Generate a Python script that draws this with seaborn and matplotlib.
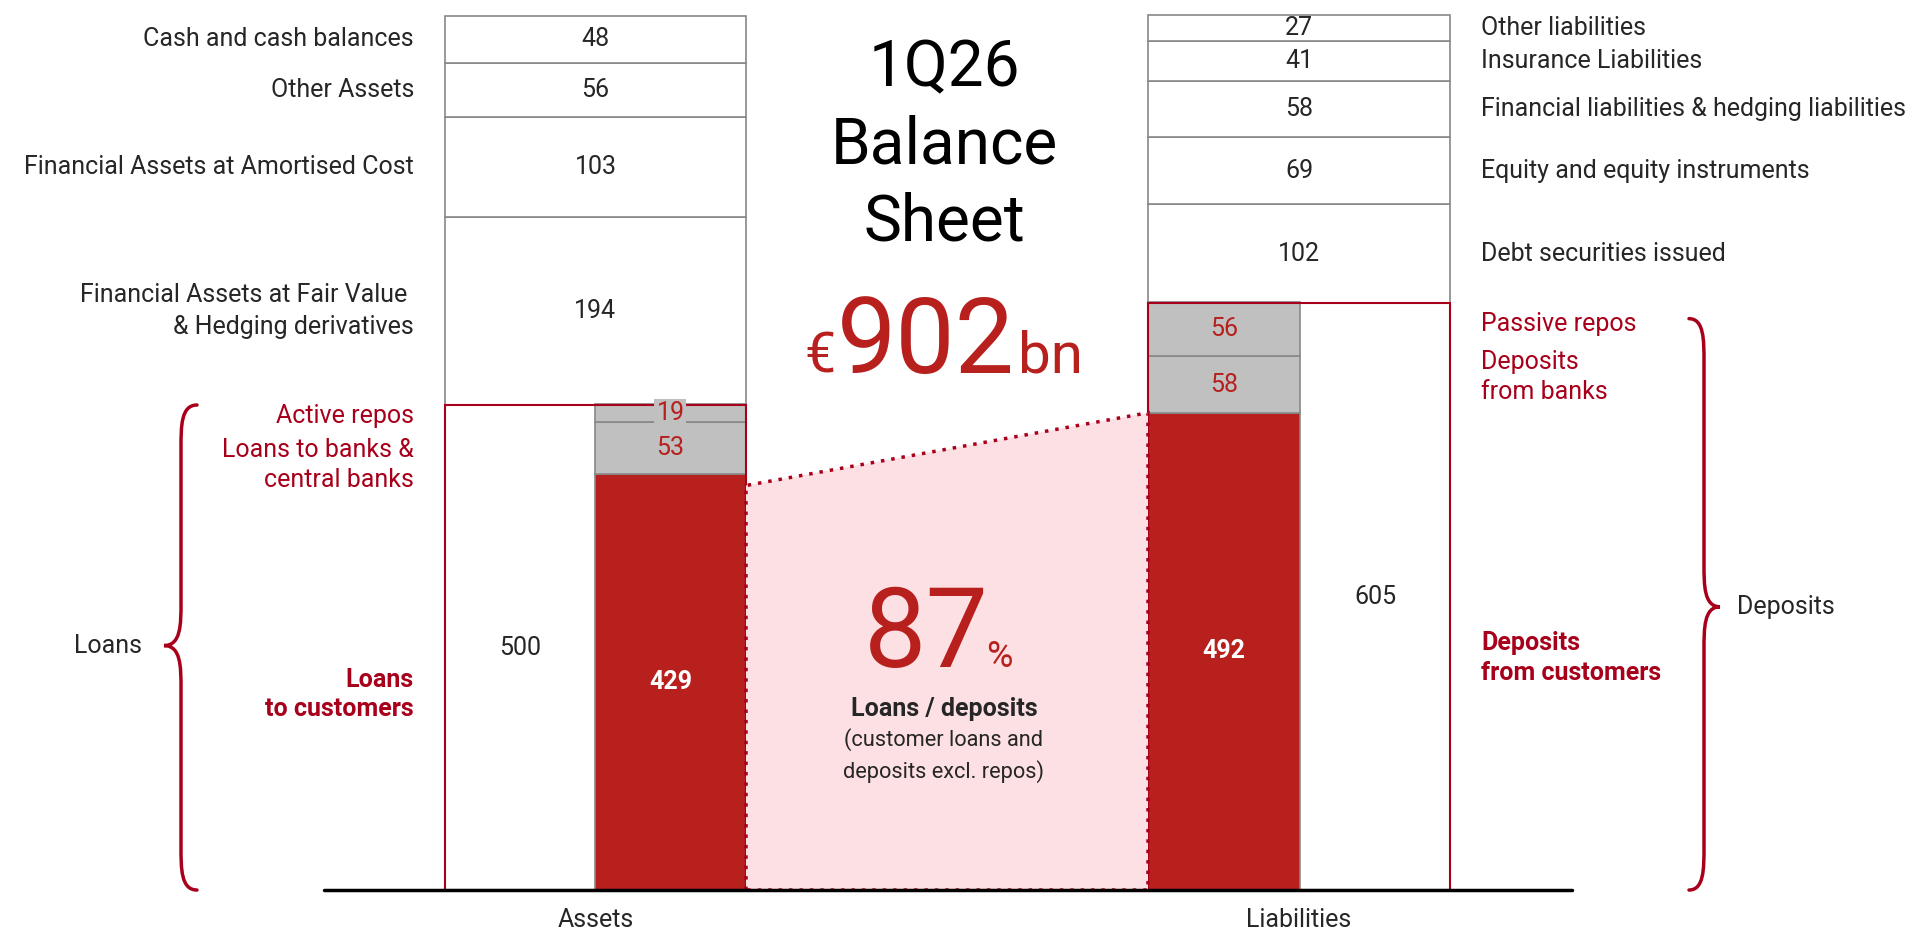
import numpy as np
import seaborn as sns
import matplotlib.pyplot as plt
from matplotlib.path import Path
from matplotlib.patches import PathPatch, Polygon

# ---- data (EUR bn) ----
asset_labels = ["Cash and cash balances", "Other Assets",
                "Financial Assets at Amortised Cost",
                "Financial Assets at Fair Value \n& Hedging derivatives"]
asset_values = [48, 56, 103, 194]          # top -> bottom, above loans
loans_total = 500
loan_labels = ["Loans\nto customers", "Loans to banks &\ncentral banks", "Active repos"]
loan_values = [429, 53, 19]                # bottom -> top

liab_labels = ["Other liabilities", "Insurance Liabilities",
               "Financial liabilities & hedging liabilities",
               "Equity and equity instruments", "Debt securities issued"]
liab_values = [27, 41, 58, 69, 102]        # top -> bottom, above deposits
deposits_total = 605
deposit_labels = ["Deposits\nfrom customers", "Deposits\nfrom banks", "Passive repos"]
deposit_values = [492, 58, 56]             # bottom -> top

total_bs = 902
ltd_ratio = 87
quarter = "1Q26"
categories = ["Assets", "Liabilities"]

# ---- style ----
sns.set_theme(style="white")
plt.rcParams['font.family'] = ['Roboto', 'DejaVu Sans']
RED = "#B8201E"
DARK_RED = "#A8001B"
GREY = "#C0C0C0"
EDGE = "#888888"
PINK = "#FDE0E3"
FS = 18

fig = plt.figure(figsize=(19.33, 9.33), dpi=100)
ax = fig.add_axes([0, 0, 1, 1])
ax.set_xlim(0, 1933)
ax.set_ylim(-44.3, 917.5)
ax.axis("off")

# layout (x in figure pixels)
a_left, a_mid, a_right = 445, 595, 746
l_left, l_mid, l_right = 1148, 1300, 1450

# ---- assets column ----
bottom = loans_total
for lab, v in zip(asset_labels[::-1], asset_values[::-1]):
    ax.bar(a_left, v, bottom=bottom, width=a_right - a_left, align="edge",
           color="white", edgecolor=EDGE, linewidth=1.2)
    ax.text((a_left + a_right) / 2, bottom + v / 2, str(v), ha="center", va="center", fontsize=FS)
    ax.text(414, bottom + v / 2, lab, ha="right", va="center", fontsize=FS, linespacing=1.45)
    bottom += v

# loans block: white left half with red outline, stacked inner column
ax.bar(a_left, loans_total, width=a_right - a_left, align="edge",
       color="white", edgecolor="none")
ax.text((a_left + a_mid) / 2, loans_total / 2, str(loans_total), ha="center", va="center", fontsize=FS)
bottom = 0
for i, v in enumerate(loan_values):
    ax.bar(a_mid, v, bottom=bottom, width=a_right - a_mid, align="edge",
           color=RED if i == 0 else GREY, edgecolor=EDGE, linewidth=1.2)
    if i == 0:
        ax.text((a_mid + a_right) / 2, v / 2, str(v), ha="center", va="center",
                fontsize=FS, color="white", fontweight="bold")
    elif i == 2:
        ax.text((a_mid + a_right) / 2, bottom + v / 2, str(v), ha="center", va="center",
                fontsize=FS, color=RED,
                bbox=dict(boxstyle="square,pad=0.08", fc=GREY, ec="none"))
    else:
        ax.text((a_mid + a_right) / 2, bottom + v / 2, str(v), ha="center", va="center",
                fontsize=FS, color=RED)
    bottom += v
ax.bar(a_left, loans_total, width=a_right - a_left, align="edge",
       fill=False, edgecolor=DARK_RED, linewidth=1.5)

# ---- liabilities column ----
bottom = deposits_total
for lab, v in zip(liab_labels[::-1], liab_values[::-1]):
    ax.bar(l_left, v, bottom=bottom, width=l_right - l_left, align="edge",
           color="white", edgecolor=EDGE, linewidth=1.2)
    ax.text((l_left + l_right) / 2, bottom + v / 2, str(v), ha="center", va="center", fontsize=FS)
    ax.text(1481, bottom + v / 2, lab, ha="left", va="center", fontsize=FS)
    bottom += v

ax.bar(l_left, deposits_total, width=l_right - l_left, align="edge",
       color="white", edgecolor="none")
ax.text((l_mid + l_right) / 2, deposits_total / 2, str(deposits_total), ha="center", va="center", fontsize=FS)
bottom = 0
for i, v in enumerate(deposit_values):
    ax.bar(l_left, v, bottom=bottom, width=l_mid - l_left, align="edge",
           color=RED if i == 0 else GREY, edgecolor=EDGE, linewidth=1.2)
    if i == 0:
        ax.text((l_left + l_mid) / 2, v / 2, str(v), ha="center", va="center",
                fontsize=FS, color="white", fontweight="bold")
    else:
        ax.text((l_left + l_mid) / 2, bottom + v / 2, str(v), ha="center", va="center",
                fontsize=FS, color=RED)
    bottom += v
ax.bar(l_left, deposits_total, width=l_right - l_left, align="edge",
       fill=False, edgecolor=DARK_RED, linewidth=1.5)

# ---- red side labels ----
ax.text(414, loan_values[0] + loan_values[1] + loan_values[2] / 2 - 3, loan_labels[2],
        ha="right", va="center", fontsize=FS, color=DARK_RED)
ax.text(414, loan_values[0] + loan_values[1] / 2 - 17, loan_labels[1],
        ha="right", va="center", fontsize=FS, color=DARK_RED, linespacing=1.3)
ax.text(414, loan_values[0] / 2 - 13, loan_labels[0], ha="right", va="center",
        fontsize=FS, color=DARK_RED, fontweight="bold", linespacing=1.3)
ax.text(1481, deposit_values[0] + deposit_values[1] + deposit_values[2] / 2 + 5, deposit_labels[2],
        ha="left", va="center", fontsize=FS, color=DARK_RED)
ax.text(1481, deposit_values[0] + deposit_values[1] / 2 + 8, deposit_labels[1],
        ha="left", va="center", fontsize=FS, color=DARK_RED, linespacing=1.3)
ax.text(1481, deposit_values[0] / 2 - 7, deposit_labels[0], ha="left", va="center",
        fontsize=FS, color=DARK_RED, fontweight="bold", linespacing=1.3)

# ---- pink connector (loans / deposits) ----
poly = Polygon([(a_right, 0), (a_right, loan_values[0] - 12), (l_left, deposit_values[0]),
                (l_left, 0)], closed=True, facecolor=PINK, edgecolor=DARK_RED,
               linestyle=(0, (1, 2)), linewidth=2.5, zorder=1)
ax.add_patch(poly)


# ---- braces ----
def brace(x_tip, x_stem, x_end, y_top, y_tip, y_bot, r=22):
    verts = [(x_end, y_top),
             (x_stem, y_top), (x_stem, y_top - r), (x_stem, y_top - 2 * r),
             (x_stem, y_tip + 2 * r),
             (x_stem, y_tip + r), (x_stem, y_tip), (x_tip, y_tip),
             (x_stem, y_tip), (x_stem, y_tip - r), (x_stem, y_tip - 2 * r),
             (x_stem, y_bot + 2 * r),
             (x_stem, y_bot + r), (x_stem, y_bot), (x_end, y_bot)]
    codes = [Path.MOVETO, Path.CURVE4, Path.CURVE4, Path.CURVE4, Path.LINETO,
             Path.CURVE4, Path.CURVE4, Path.CURVE4, Path.CURVE4, Path.CURVE4, Path.CURVE4,
             Path.LINETO, Path.CURVE4, Path.CURVE4, Path.CURVE4]
    ax.add_patch(PathPatch(Path(verts, codes), fill=False, edgecolor=DARK_RED,
                           linewidth=2.5, capstyle="round"))


brace(164, 181, 197, sum(loan_values) - 1, 252, 0)
brace(1720, 1704, 1689, 589, 292, 0)
ax.text(142, 252, "Loans", ha="right", va="center", fontsize=FS)
ax.text(1737, 292, "Deposits", ha="left", va="center", fontsize=FS)

# ---- baseline and category labels ----
ax.plot([324, 1572], [0, 0], color="black", linewidth=2.5, zorder=5)
ax.text((a_left + a_right) / 2, -31, categories[0], ha="center", va="center", fontsize=FS)
ax.text((l_left + l_right) / 2, -31, categories[1], ha="center", va="center", fontsize=FS)

# ---- title block ----
for k, line in enumerate([quarter, "Balance", "Sheet"]):
    ax.text(944, 828 - k * 79, line, ha="center", va="baseline", fontsize=46,
            fontweight="normal", color="black")
ax.text(836, 533, "€", ha="right", va="baseline", fontsize=40, color=RED)
ax.text(926, 533, str(total_bs), ha="center", va="baseline", fontsize=76, color=RED)
ax.text(1018, 533, "bn", ha="left", va="baseline", fontsize=42, color=RED)

ax.text(926, 230, str(ltd_ratio), ha="center", va="baseline", fontsize=80, color=RED)
ax.text(986, 230, "%", ha="left", va="baseline", fontsize=26, color=RED)
ax.text(944, 187, "Loans / deposits", ha="center", va="center", fontsize=FS, fontweight="bold")
ax.text(944, 139, "(customer loans and\ndeposits excl. repos)", ha="center", va="center",
        fontsize=15.7, linespacing=1.5)

fig.savefig("out.png", dpi=100)
